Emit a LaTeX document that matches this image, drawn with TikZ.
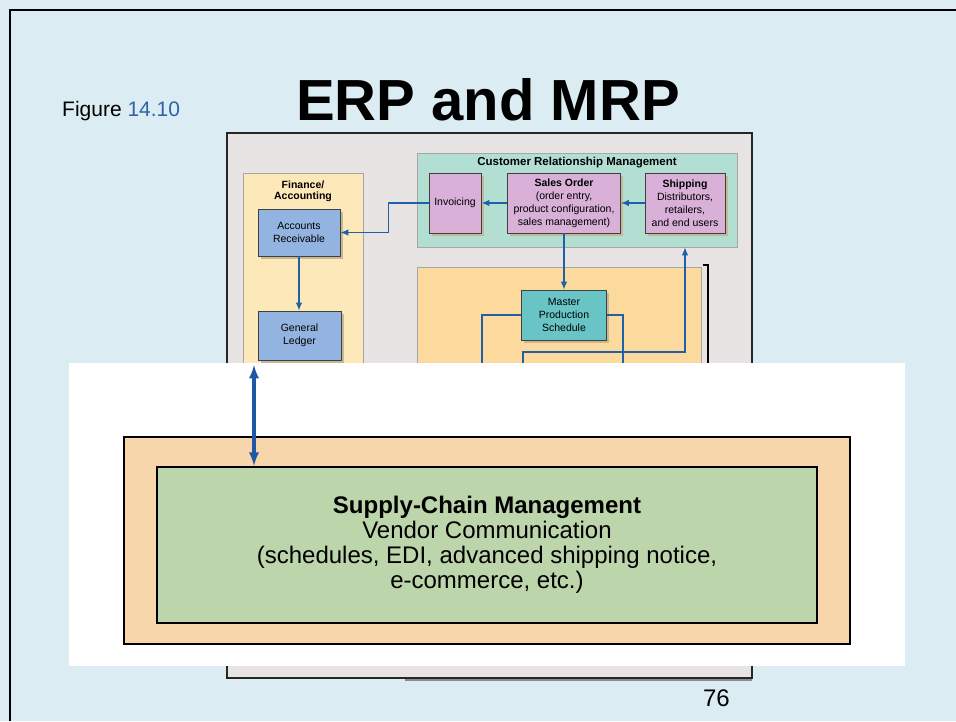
\documentclass[tikz,border=0pt]{standalone}
\usepackage{fontspec}
\setmainfont{Liberation Sans}
\usetikzlibrary{shadows,arrows.meta}

\definecolor{slidebg}{RGB}{219,237,243}
\definecolor{figblue}{RGB}{47,98,166}
\definecolor{figgray}{RGB}{232,228,227}
\definecolor{finyellow}{RGB}{253,232,186}
\definecolor{arblue}{RGB}{147,179,225}
\definecolor{crmteal}{RGB}{179,223,211}
\definecolor{crmpink}{RGB}{216,176,216}
\definecolor{mpsteal}{RGB}{105,196,198}
\definecolor{mrporange}{RGB}{252,218,158}
\definecolor{shadowtan}{RGB}{196,184,150}
\definecolor{flowblue}{RGB}{32,96,168}
\definecolor{linkblue}{RGB}{31,87,164}
\definecolor{scmorange}{RGB}{246,214,170}
\definecolor{scmgreen}{RGB}{189,213,171}

\newcommand{\figfont}{\fontsize{10.5}{13}\selectfont}

\begin{document}
\begin{tikzpicture}[x=1pt,y=-1pt,
	box/.style={rectangle, draw=black!75, line width=0.8pt, inner sep=1pt, align=center, font=\figfont,
		drop shadow={shadow xshift=2.5pt, shadow yshift=-2.5pt, fill=shadowtan, opacity=1}},
	panel/.style={draw=black!35, line width=0.6pt},
	flow/.style={draw=flowblue, line width=1.3pt, -{Latex[length=8pt,width=6.5pt]}},
	flowline/.style={draw=flowblue, line width=1.3pt}]
		\useasboundingbox (0,0) rectangle (956,721);
		\fill[slidebg] (0,0) rectangle (956,721);
		\draw[black, line width=2pt] (10,721) -- (10,10) -- (956,10);
		
		\node[anchor=base west, inner sep=0pt, font=\fontsize{21}{24}\selectfont] (figno) at (62,116) {Figure \textcolor{figblue}{14.10}};
		\node[anchor=base, inner sep=0pt, font=\fontsize{58}{60}\selectfont\bfseries] (title) at (488,120) {ERP and MRP};
		
		% the book figure behind the overlay
		\draw[fill=figgray, draw=black!85, line width=2.2pt] (227,133) rectangle (752,678);
		\draw[black!45, line width=1.5pt] (405,680) -- (752,680);
		
		\draw[panel, fill=finyellow] (243,173) rectangle (363,400);
		\node[inner sep=0pt, align=center, font=\fontsize{10.5}{11}\selectfont\bfseries] (fintitle) at (303,191) {Finance/\\Accounting};
		\node[box, fill=arblue, minimum width=82pt, minimum height=47pt] (ar) at (299,232.5) {Accounts\\Receivable};
		\node[box, fill=arblue, minimum width=83pt, minimum height=49pt] (gl) at (299.5,335.5) {General\\Ledger};
		\draw[flow] (ar.south) -- (ar.south |- gl.north);
		
		\node[panel, fill=crmteal, minimum width=320pt, minimum height=94pt] (crm) at (577,200) {};
		\node[inner sep=0pt, font=\fontsize{11.5}{13}\selectfont\bfseries] (crmtitle) at (577,163) {Customer Relationship Management};
		\node[box, fill=crmpink, minimum width=52pt, minimum height=60pt] (inv) at (455,203) {Invoicing};
		\node[box, fill=crmpink, minimum width=113pt, minimum height=60pt] (so) at (564,203) {\textbf{Sales Order}\\(order entry,\\product configuration,\\sales management)};
		\node[box, fill=crmpink, minimum width=80pt, minimum height=60pt] (ship) at (685,203) {\textbf{Shipping}\\Distributors,\\retailers,\\and end users};
		\draw[flow] (ship) -- (so);
		\draw[flow] (so) -- (inv);
		\draw[flow] (inv.west) -- ++(-40,0) |- (ar.east);
		
		\draw[panel, fill=mrporange] (417,267) rectangle (701,400);
		\draw[black, line width=1.5pt] (703,265) -- (708,265) -- (708,400);
		\node[box, fill=mpsteal, minimum width=85pt, minimum height=50pt] (mps) at (564,315) {Master\\Production\\Schedule};
		\draw[flow] (so.south) -- (so.south |- mps.north);
		
		\coordinate (mpsl) at (482,366);
		\coordinate (mpsr) at (623,366);
		\coordinate (mrpout) at (523,366);
		\draw[flowline] (mps.west) -| (mpsl);
		\draw[flowline] (mps.east) -| (mpsr);
		\draw[flow] (mrpout) -- ++(0,-14) -| (ship.south |- crm.south);
		
		% overlay with the supply chain
		\fill[white] (69,363) rectangle (905,666);
		\node[draw=black, fill=scmorange, line width=2.5pt, minimum width=726pt, minimum height=207pt] (scmframe) at (487,540.5) {};
		\node[draw=black, fill=scmgreen, line width=2.5pt, minimum width=660pt, minimum height=156pt, align=center, font=\fontsize{24}{25}\selectfont] (scm) at (487,545) {\textbf{Supply-Chain Management}\\Vendor Communication\\(schedules, EDI, advanced shipping notice,\\e-commerce, etc.)};
		
		\coordinate (scmlink) at (254,365);
		\draw[<->, >=latex, draw=linkblue, line width=3.5pt] (scmlink) -- (scmlink |- scm.north);
		
		\node[anchor=base east, inner sep=0pt, font=\fontsize{24}{26}\selectfont] (pageno) at (730,706) {76};
		
		\end{tikzpicture}
\end{document}
